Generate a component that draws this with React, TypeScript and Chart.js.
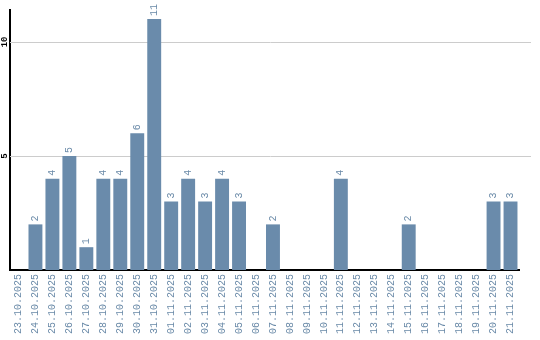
import React, { useEffect, useRef } from "react";
import { Chart, registerables } from "chart.js";

Chart.register(...registerables);

const categories = [
  "23.10.2025", "24.10.2025", "25.10.2025", "26.10.2025", "27.10.2025",
  "28.10.2025", "29.10.2025", "30.10.2025", "31.10.2025", "01.11.2025",
  "02.11.2025", "03.11.2025", "04.11.2025", "05.11.2025", "06.11.2025",
  "07.11.2025", "08.11.2025", "09.11.2025", "10.11.2025", "11.11.2025",
  "12.11.2025", "13.11.2025", "14.11.2025", "15.11.2025", "16.11.2025",
  "17.11.2025", "18.11.2025", "19.11.2025", "20.11.2025", "21.11.2025",
];
const counts = [0, 2, 4, 5, 1, 4, 4, 6, 11, 3, 4, 3, 4, 3, 0, 2, 0, 0, 0, 4, 0, 0, 0, 2, 0, 0, 0, 0, 3, 3];
const yTicks = [5, 10];

const BAR = "#6a8bab";
const TEXT = "#6a8aa8";
const MONO = "'Liberation Mono', monospace";

const gridExt = {
  id: "gridExt",
  beforeDatasetsDraw(chart: any) {
    const ctx = chart.ctx;
    const y = chart.scales.y;
    const a = chart.chartArea;
    ctx.save();
    ctx.strokeStyle = "#cccccc";
    ctx.lineWidth = 1;
    yTicks.forEach((v) => {
      const py = Math.round(y.getPixelForValue(v)) + 0.5;
      ctx.beginPath();
      ctx.moveTo(a.left, py);
      ctx.lineTo(a.right + 12, py);
      ctx.stroke();
    });
    ctx.font = `bold 9px ${MONO}`;
    ctx.fillStyle = "#000";
    ctx.textAlign = "center";
    ctx.textBaseline = "middle";
    yTicks.forEach((v) => {
      const py = y.getPixelForValue(v);
      ctx.save();
      ctx.translate(5, py);
      ctx.rotate(-Math.PI / 2);
      ctx.fillText(String(v), 0, 0);
      ctx.restore();
    });
    ctx.restore();
  },
};

const valueLabels = {
  id: "valueLabels",
  afterDatasetsDraw(chart: any) {
    const ctx = chart.ctx;
    const meta = chart.getDatasetMeta(0);
    ctx.save();
    ctx.font = `10px ${MONO}`;
    ctx.fillStyle = TEXT;
    ctx.textAlign = "left";
    ctx.textBaseline = "middle";
    meta.data.forEach((el: any, i: number) => {
      const v = counts[i];
      if (!v) return;
      ctx.save();
      ctx.translate(el.x, el.y - 3);
      ctx.rotate(-Math.PI / 2);
      ctx.fillText(String(v), 0, 0);
      ctx.restore();
    });
    ctx.restore();
  },
};

export default function App() {
  const ref = useRef<HTMLCanvasElement>(null);
  useEffect(() => {
    document.body.style.margin = "0";
    const chart = new Chart(ref.current!, {
      type: "bar",
      data: {
        labels: categories,
        datasets: [
          {
            data: counts,
            backgroundColor: BAR,
            barPercentage: 0.82,
            categoryPercentage: 1,
          },
        ],
      },
      plugins: [gridExt, valueLabels],
      options: {
        animation: false,
        responsive: false,
        maintainAspectRatio: false,
        layout: { padding: { top: 10, right: 21, left: 0, bottom: 0 } },
        plugins: { legend: { display: false }, tooltip: { enabled: false } },
        scales: {
          x: {
            grid: { display: false, drawTicks: false },
            border: { color: "#000", width: 2 },
            ticks: {
              autoSkip: false,
              minRotation: 90,
              maxRotation: 90,
              padding: 4,
              color: TEXT,
              font: { family: MONO, size: 10 },
            },
            afterFit(s: any) {
              s.height = 70;
            },
          },
          y: {
            min: 0,
            max: 11.4,
            grid: { display: false, drawTicks: false },
            border: { color: "#000", width: 2 },
            ticks: { display: false },
            afterBuildTicks(s: any) {
              s.ticks = yTicks.map((v) => ({ value: v }));
            },
            afterFit(s: any) {
              s.width = 10;
            },
          },
        },
      },
    } as any);
    return () => chart.destroy();
  }, []);
  return (
    <div style={{ width: 540, height: 340 }}>
      <canvas ref={ref} width={540} height={340} style={{ display: "block" }} />
    </div>
  );
}
